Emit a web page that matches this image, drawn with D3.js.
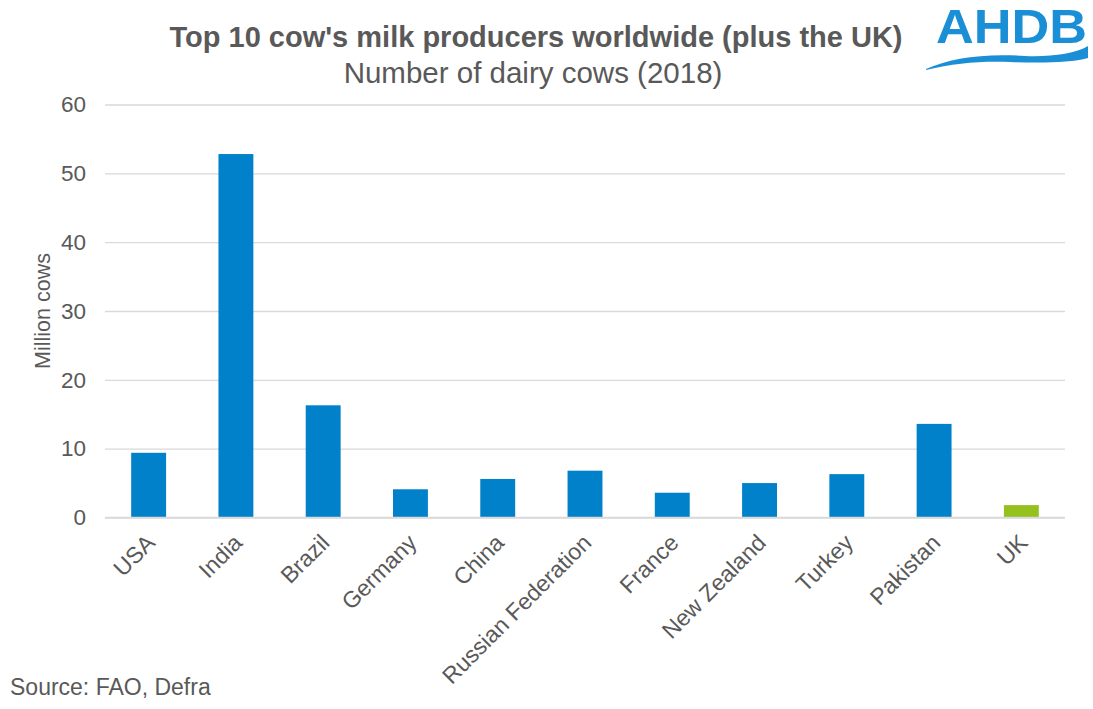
<!DOCTYPE html>
<html>
<head>
<meta charset="utf-8">
<script src="https://cdn.jsdelivr.net/npm/d3@7"></script>
<style>
  html, body { margin: 0; padding: 0; background: #fff; }
  svg { display: block; font-family: "Liberation Sans", Arial, sans-serif; }
</style>
</head>
<body>
<svg id="chart" width="1093" height="709"></svg>
<script>
const categories = ["USA", "India", "Brazil", "Germany", "China", "Russian Federation", "France", "New Zealand", "Turkey", "Pakistan", "UK"];
const values = [9.4, 52.8, 16.3, 4.1, 5.6, 6.8, 3.6, 5.0, 6.3, 13.6, 1.8];
const yTicks = [0, 10, 20, 30, 40, 50, 60];
const title = "Top 10 cow's milk producers worldwide (plus the UK)";
const subtitle = "Number of dairy cows (2018)";
const yTitle = "Million cows";
const source = "Source: FAO, Defra";

const svg = d3.select("#chart");
const plotLeft = 105, plotRight = 1065, plotTop = 104.5, plotBottom = 517.5;
const textColor = "#595959";
const ff = "Liberation Sans, Arial, sans-serif";

const x = d3.scaleBand().domain(categories).range([plotLeft, plotRight]).paddingInner(0.6).paddingOuter(0.3);
const y = d3.scaleLinear().domain([0, 60]).range([plotBottom, plotTop]);

// gridlines + y tick labels
const yAxis = d3.axisLeft(y).tickValues(yTicks).tickSize(-(plotRight - plotLeft)).tickPadding(19);
const gy = svg.append("g").attr("transform", `translate(${plotLeft},0)`).call(yAxis);
gy.select(".domain").remove();
gy.selectAll(".tick line").attr("stroke", "#d9d9d9").attr("stroke-width", 1.4);
gy.selectAll(".tick text").attr("fill", textColor).attr("font-size", 22.5).attr("font-family", ff);

// bars
svg.append("g").selectAll("rect").data(categories).join("rect")
  .attr("x", d => x(d))
  .attr("width", x.bandwidth())
  .attr("y", (d, i) => y(values[i]))
  .attr("height", (d, i) => y(0) - y(values[i]))
  .attr("fill", d => d === "UK" ? "#95C11F" : "#0081CA");

// baseline over bars
svg.append("line").attr("x1", plotLeft).attr("x2", plotRight).attr("y1", y(0)).attr("y2", y(0))
  .attr("stroke", "#d9d9d9").attr("stroke-width", 1.4);

// x axis labels
const xAxis = d3.axisBottom(x).tickSize(0).tickPadding(0);
const gx = svg.append("g").attr("transform", `translate(0,${plotBottom})`).call(xAxis);
gx.select(".domain").remove();
gx.selectAll(".tick text")
  .attr("fill", textColor).attr("font-size", 23).attr("font-family", ff)
  .attr("text-anchor", "end")
  .attr("dy", "0.35em")
  .attr("transform", "translate(2,21) rotate(-45)");

// titles
svg.append("text").attr("x", 536).attr("y", 47).attr("text-anchor", "middle")
  .attr("font-size", 29).attr("font-weight", "bold").attr("fill", textColor).text(title);
svg.append("text").attr("x", 533).attr("y", 83).attr("text-anchor", "middle")
  .attr("font-size", 29.5).attr("fill", textColor).text(subtitle);

// y title
svg.append("text").attr("transform", "translate(50,311) rotate(-90)").attr("text-anchor", "middle")
  .attr("font-size", 21.5).attr("fill", textColor).text(yTitle);

// source
svg.append("text").attr("x", 10).attr("y", 695).attr("font-size", 23).attr("fill", textColor).text(source);

// logo
const logo = svg.append("g");
logo.append("text").attr("x", 936).attr("y", 43)
  .attr("font-size", 48).attr("font-weight", "bold").attr("fill", "#1B8FD6")
  .attr("textLength", 151).attr("lengthAdjust", "spacingAndGlyphs").text("AHDB");
logo.append("path")
  .attr("d", "M926,69 C950,58 985,53 1025,56 C1050,57 1075,54 1088,46 L1088,58 C1070,63 1040,63 1010,62 C980,61 955,63 926,70 Z")
  .attr("fill", "#1B8FD6");
</script>
</body>
</html>
